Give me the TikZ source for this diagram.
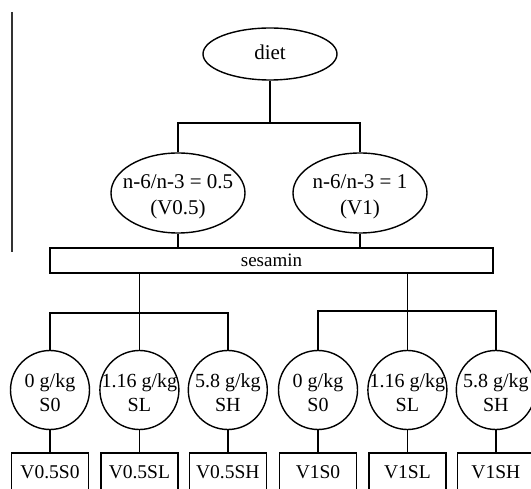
\documentclass[tikz,border=0pt]{standalone}
\usepackage{fontspec}
\setmainfont{Liberation Serif}
\usepackage{tikz}
\usetikzlibrary{positioning}
\usetikzlibrary{shapes.geometric}

% text that may stick out of its shape, lowered by #1
\newcommand{\fitin}[2][0pt]{\makebox[0pt]{\raisebox{#1}[0pt][0pt]{\begin{tabular}{@{}c@{}}#2\end{tabular}}}}

\begin{document}
\begin{tikzpicture}
		[x=1pt, y=-1pt,
		oval/.style={ellipse, draw=black, line width=1.4pt, inner sep=0pt, minimum width=134pt},
		dose/.style={circle, draw=black, line width=1.4pt, inner sep=0pt, minimum size=79pt, font=\fontsize{20}{24}\selectfont},
		group/.style={rectangle, draw=black, line width=1.4pt, minimum width=77pt, text height=22pt, text depth=20pt, inner ysep=4pt, font=\fontsize{19.5}{22}\selectfont},
		link/.style={draw=black, line width=1.4pt}]
		\useasboundingbox (0,0) rectangle (531,489);
		\clip (0,0) rectangle (531,489);

		\node[oval, minimum height=52pt, font=\fontsize{21}{25}\selectfont] (diet) at (270,54) {\fitin[-6pt]{diet}};
		\node[oval, minimum height=80pt, font=\fontsize{21}{26}\selectfont] (v05) at (178,193) {\fitin[-8pt]{n-6/n-3 = 0.5\\(V0.5)}};
		\node[oval, minimum height=80pt, font=\fontsize{21}{26}\selectfont] (v1) at (360,193) {\fitin[-8pt]{n-6/n-3 = 1\\(V1)}};
		\node[draw=black, line width=1.4pt, inner sep=0pt, minimum width=443pt, minimum height=25pt, font=\fontsize{19}{22}\selectfont] (ses) at (271.5,260.5) {sesamin};

		\node[dose] (c1) at (50,390) {\fitin[-10pt]{0 g/kg\\S0}};
		\node[dose, right=9pt of c1] (c2) {\fitin[-10pt]{1.16 g/kg\\SL}};
		\node[dose, right=8pt of c2] (c3) {\fitin[-10pt]{5.8 g/kg\\SH}};
		\node[dose] (c4) at (318,390) {\fitin[-10pt]{0 g/kg\\S0}};
		\node[dose, right=9pt of c4] (c5) {\fitin[-10pt]{1.16 g/kg\\SL}};
		\node[dose, right=8pt of c5] (c6) {\fitin[-10pt]{5.8 g/kg\\SH}};

		\node[group, below=22pt of c1] (g1) {V0.5S0};
		\node[group, below=22pt of c2] (g2) {V0.5SL};
		\node[group, below=22pt of c3] (g3) {V0.5SH};
		\node[group, below=22pt of c4] (g4) {V1S0};
		\node[group, below=22pt of c5] (g5) {V1SL};
		\node[group, below=22pt of c6] (g6) {V1SH};

		\coordinate (top) at (270,123);
		\coordinate (lj) at (c2 |- 0,313);
		\coordinate (rj) at (c5 |- 0,311);

		\draw[link] (diet) -- (top);
		\draw[link] (v05) |- (top) -| (v1);
		\draw[link] (v05) -- (v05 |- ses.north);
		\draw[link] (v1) -- (v1 |- ses.north);
		\draw[link] (ses.south -| c2) -- (c2);
		\draw[link] (c1) |- (lj) -| (c3);
		\draw[link] (ses.south -| c5) -- (c5);
		\draw[link] (c4) |- (rj) -| (c6);
		\foreach \i in {1,...,6}
			\draw[link] (c\i) -- (g\i);

		\draw[line width=1.4pt, black!80] (12,12) -- (12,252);
	\end{tikzpicture}
\end{document}
